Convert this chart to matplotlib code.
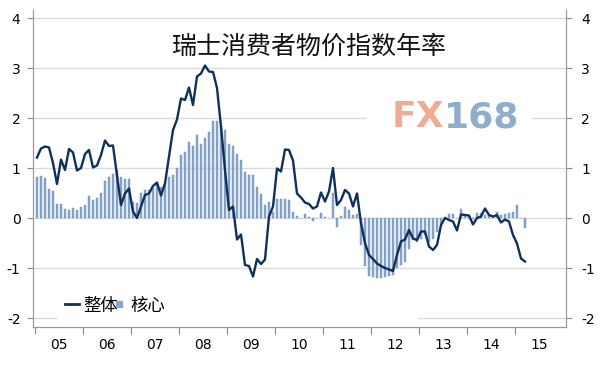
import matplotlib
matplotlib.use("Agg")
import matplotlib.pyplot as plt
from matplotlib.lines import Line2D
from matplotlib.patches import Rectangle
import numpy as np

plt.rcParams["font.family"] = ["DejaVu Sans", "Noto Sans CJK SC"]
plt.rcParams["axes.unicode_minus"] = False

# monthly, Jan 2005 .. Mar 2015
headline = [
    1.21, 1.39, 1.43, 1.41, 1.10, 0.68, 1.17, 0.96, 1.38, 1.31, 0.95, 1.00,
    1.28, 1.36, 1.01, 1.05, 1.26, 1.55, 1.44, 1.45, 0.85, 0.26, 0.49, 0.59,
    0.13, 0.00, 0.23, 0.46, 0.49, 0.64, 0.71, 0.45, 0.69, 1.23, 1.76, 1.97,
    2.39, 2.36, 2.61, 2.26, 2.83, 2.89, 3.05, 2.93, 2.92, 2.60, 1.83, 0.96,
    0.16, 0.23, -0.43, -0.33, -0.94, -0.96, -1.17, -0.82, -0.92, -0.83, 0.03, 0.23,
    0.99, 0.93, 1.37, 1.36, 1.15, 0.49, 0.41, 0.31, 0.28, 0.19, 0.23, 0.51,
    0.33, 0.53, 1.00, 0.26, 0.36, 0.56, 0.49, 0.23, 0.49, -0.10, -0.50, -0.74,
    -0.82, -0.91, -0.96, -1.00, -1.03, -1.06, -0.74, -0.47, -0.43, -0.24, -0.41, -0.44,
    -0.27, -0.27, -0.57, -0.64, -0.54, -0.14, 0.00, -0.04, -0.07, -0.25, 0.07, 0.06,
    0.05, -0.13, 0.00, 0.03, 0.19, 0.06, 0.03, 0.06, -0.09, -0.03, -0.07, -0.34,
    -0.51, -0.81, -0.87,
]
core = [
    0.83, 0.85, 0.81, 0.58, 0.55, 0.28, 0.28, 0.19, 0.16, 0.21, 0.17, 0.22,
    0.27, 0.44, 0.36, 0.41, 0.51, 0.75, 0.83, 0.89, 0.96, 0.83, 0.78, 0.79,
    0.33, 0.31, 0.50, 0.56, 0.56, 0.60, 0.69, 0.62, 0.69, 0.83, 0.87, 1.00,
    1.26, 1.33, 1.53, 1.45, 1.67, 1.48, 1.60, 1.72, 1.95, 1.95, 1.85, 1.76,
    1.48, 1.44, 1.28, 1.17, 0.93, 0.86, 0.87, 0.63, 0.48, 0.27, 0.33, 0.13,
    0.38, 0.38, 0.38, 0.37, 0.13, 0.05, 0.01, 0.08, 0.02, -0.06, 0.00, 0.10,
    0.03, 0.01, 0.50, -0.17, 0.04, 0.22, 0.17, 0.06, 0.09, -0.54, -0.95, -1.15,
    -1.17, -1.19, -1.19, -1.17, -1.15, -1.14, -1.00, -0.94, -0.87, -0.61, -0.44, -0.47,
    -0.41, -0.34, -0.47, -0.41, -0.27, -0.11, 0.03, 0.09, 0.09, 0.00, 0.19, 0.06,
    0.04, -0.01, 0.11, 0.11, 0.07, 0.06, 0.03, 0.13, 0.07, 0.09, 0.11, 0.13,
    0.27, 0.00, -0.20,
]
year_labels = ["05", "06", "07", "08", "09", "10", "11", "12", "13", "14", "15"]
y_ticks = [-2, -1, 0, 1, 2, 3, 4]

line_color = "#0f2f5c"
bar_color = "#88a6ca"

fig = plt.figure(figsize=(6, 3.69), dpi=100)
ax = fig.add_axes([33 / 600, 1 - 327 / 369, 533 / 600, 317 / 369])
months = np.arange(len(headline))

ax.bar(months, core, width=0.65, color=bar_color, edgecolor="#6f8fb8",
       linewidth=0.3, zorder=2)
ax.plot(months, headline, color=line_color, linewidth=1.7, zorder=3)

ax.set_xlim(-1, 132.25)
ax.set_ylim(-2.18, 4.16)
ax.set_yticks(y_ticks)
ax.set_yticklabels([str(t) for t in y_ticks])
ax.yaxis.grid(True, color="#dcdcdc", linewidth=1.0, zorder=0)
ax.set_axisbelow(True)

ax.set_xticks([-0.5 + 12 * k for k in range(11)])
ax.set_xticklabels([])
ax.set_xticks([5.5 + 12 * k for k in range(len(year_labels))], minor=True)
ax.set_xticklabels(year_labels, minor=True, fontsize=10)
ax.tick_params(axis="x", which="minor", length=0, pad=8)
ax.tick_params(axis="x", which="major", length=5, color="#888888", direction="out")
ax.tick_params(axis="y", length=4, color="#888888", labelsize=10, pad=5)

ax2 = ax.twinx()
ax2.set_ylim(ax.get_ylim())
ax2.set_yticks(y_ticks)
ax2.set_yticklabels([str(t) for t in y_ticks])
ax2.tick_params(axis="y", length=4, color="#888888", labelsize=10, pad=7)

for a in (ax, ax2):
    a.spines["top"].set_visible(False)
    for s in ("left", "right", "bottom"):
        a.spines[s].set_color("#999999")

# white patch behind legend cuts the -2 gridline
ax.add_patch(Rectangle((0.047, 0.012), 0.675, 0.035, transform=ax.transAxes,
                       facecolor="white", edgecolor="none", zorder=1))

handles = [Line2D([], [], color=line_color, linewidth=2),
           Line2D([], [], color=bar_color, marker="s", linestyle="", markersize=5)]
ax.legend(handles, ["整体", "核心"], loc="lower left", bbox_to_anchor=(0.03, -0.01),
          ncol=2, frameon=False, handlelength=0.8, handletextpad=0.25,
          columnspacing=-0.3, prop={"family": ["Noto Sans CJK SC"], "size": 12.5})

fig.text(0.515, 0.872, "瑞士消费者物价指数年率", ha="center", va="center",
         fontsize=18, family=["Noto Sans CJK SC"], color="#111111")

# watermark on a white box
fig.patches.append(Rectangle((367 / 600, 1 - 135 / 369), 165 / 600, 36 / 369,
                             transform=fig.transFigure, facecolor="white",
                             edgecolor="none", zorder=5))
fig.text(444 / 600, 1 - 117 / 369, "FX", ha="right", va="center", fontsize=26,
         fontweight="bold", color="#f0ab95", zorder=6)
fig.text(444 / 600, 1 - 117 / 369, "168", ha="left", va="center", fontsize=26,
         fontweight="bold", color="#8eaecb", zorder=6)

fig.savefig("out.png", dpi=100)
